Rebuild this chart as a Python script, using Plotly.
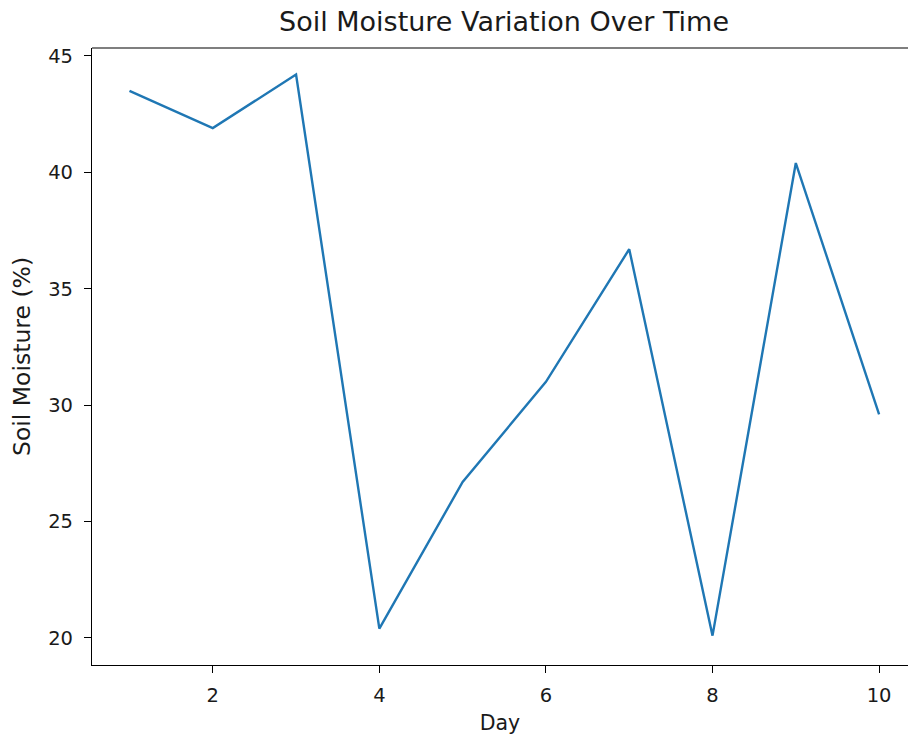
import plotly.graph_objects as go

days = [1, 2, 3, 4, 5, 6, 7, 8, 9, 10]
soil_moisture = [43.5, 41.9, 44.2, 20.4, 26.7, 31.0, 36.7, 20.1, 40.4, 29.6]

x_ticks = [2, 4, 6, 8, 10]
y_ticks = [20, 25, 30, 35, 40, 45]

title_text = "Soil Moisture Variation Over Time"
x_label = "Day"
y_label = "Soil Moisture (%)"

FONT = "DejaVu Sans"
TXT = "#1a1a1a"

W, H = 908, 735

fig = go.Figure()
fig.add_trace(go.Scatter(
    x=days, y=soil_moisture, mode="lines",
    line=dict(color="#1f77b4", width=2.4),
    showlegend=False,
))

fig.update_layout(
    width=W, height=H,
    margin=dict(l=92, r=0, t=48, b=70, autoexpand=False),
    paper_bgcolor="white", plot_bgcolor="white",
    font=dict(family=FONT, color=TXT),
    title=dict(text=title_text, font=dict(size=27, family=FONT, color=TXT),
               x=504 / W, xanchor="center",
               yref="container", y=1 - 22 / H, yanchor="middle"),
    xaxis=dict(
        range=[0.55, 10.347], tickmode="array", tickvals=x_ticks,
        ticks="outside", ticklen=7, tickwidth=1.2, tickcolor="black",
        showline=True, linecolor="black", linewidth=1.2,
        showgrid=False, zeroline=False,
        tickfont=dict(size=19.5, family=FONT, color=TXT),
        ticklabelstandoff=5,
        title=dict(text=x_label, font=dict(size=20.5, family=FONT, color=TXT), standoff=13),
    ),
    yaxis=dict(
        range=[18.84, 45.34], tickmode="array", tickvals=y_ticks,
        ticks="outside", ticklen=7, tickwidth=1.2, tickcolor="black",
        showline=True, linecolor="black", linewidth=1.2,
        showgrid=False, zeroline=False,
        tickfont=dict(size=19.5, family=FONT, color=TXT),
        ticklabelstandoff=7,
        title=dict(text=y_label, font=dict(size=23.5, family=FONT, color=TXT), standoff=10),
    ),
    shapes=[dict(type="line", xref="paper", yref="paper", x0=0, x1=1, y0=1, y1=1,
                 line=dict(color="black", width=1.2))],
)

fig.write_html("out.html", config={"displayModeBar": False},
               post_script="document.body.style.margin='0';")
